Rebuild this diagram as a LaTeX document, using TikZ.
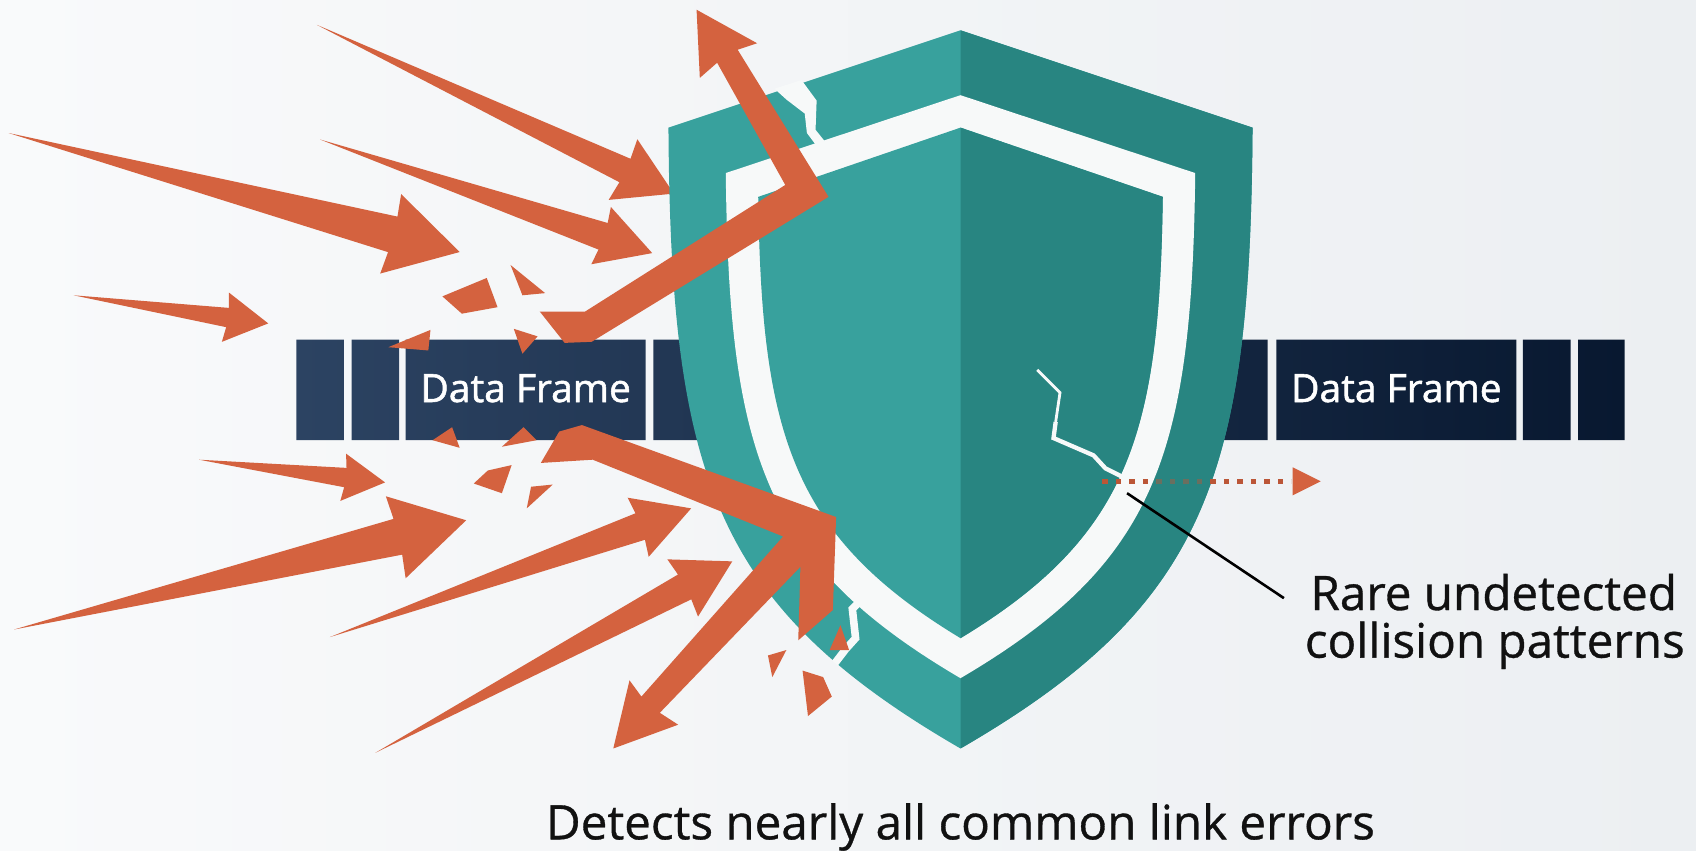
\documentclass[tikz,border=0pt]{standalone}
\usepackage{fontspec}
\setmainfont{Open Sans}
\newfontfamily\framefont{Open Sans}[RawFeature={embolden=1.4}]
\newfontfamily\captionfont{Open Sans}[RawFeature={embolden=0.7}]
\usetikzlibrary{calc}

\definecolor{bgL}{HTML}{F9FAFB}
\definecolor{bgR}{HTML}{ECEFF2}
\definecolor{navyL}{HTML}{2C4362}
\definecolor{navyR}{HTML}{081830}
\definecolor{tealL}{HTML}{38A19D}
\definecolor{tealD}{HTML}{288581}
\definecolor{coral}{HTML}{D4623F}
\definecolor{gapwhite}{HTML}{F7F9F9}
\definecolor{ink}{HTML}{111111}

\tikzset{
  spikefill/.style={fill=coral},
  shard/.style={fill=coral},
  bounce/.style={fill=coral},
  frametext/.style={text=white, font=\framefont\fontsize{36}{40}\selectfont, inner sep=0pt},
  caption/.style={text=ink, font=\captionfont\fontsize{44}{50}\selectfont, inner sep=0pt, anchor=base},
  leader/.style={draw=black, line width=2.4pt},
  crackline/.style={draw=gapwhite, line join=miter},
  trail/.style={draw=coral!88!black, line width=5pt, dash pattern=on 5pt off 7.5pt},
}

% incoming error spike: tail, tip, head length, head half width, shaft half width
\newcommand{\spike}[5]{%
  \path (#1) coordinate (sT) (#2) coordinate (sP);
  \path ($(sP)!#3pt!(sT)$) coordinate (sH)
        ($(sP)!#3pt+2pt!(sT)$) coordinate (sB);
  \fill[spikefill] (sT) -- ($(sH)!#5pt!90:(sP)$) -- ($(sB)!#4pt!90:(sP)$) -- (sP)
     -- ($(sB)!#4pt!-90:(sP)$) -- ($(sH)!#5pt!-90:(sP)$) -- cycle;
}

% shield outlines
\newcommand{\outerShield}[1]{\fill[#1] (888,28) -- (1158,118)
  .. controls (1156,440) and (1116,560) .. (888,692)
  .. controls (660,560) and (620,440) .. (618,118) -- cycle;}
\newcommand{\bandShield}[1]{\fill[#1] (888,88) -- (1105,160)
  .. controls (1102,420) and (1070,520) .. (888,627)
  .. controls (706,520) and (674,420) .. (671,160) -- cycle;}
\newcommand{\innerShield}[1]{\fill[#1] (888,118) -- (1075,182)
  .. controls (1072,400) and (1045,495) .. (888,590)
  .. controls (731,495) and (704,400) .. (701,182) -- cycle;}

\begin{document}
\begin{tikzpicture}[x=1pt,y=-1pt]
\useasboundingbox (0,0) rectangle (1568,786);
\shade[left color=bgL, right color=bgR] (0,0) rectangle (1568,786);

% data frame strip
\shade[left color=navyL, right color=navyR]
  (274,314) rectangle (318,407)
  (325,314) rectangle (369,407)
  (375,314) rectangle (597,407)
  (604,314) rectangle (1172,407)
  (1180,314) rectangle (1402,407)
  (1408,314) rectangle (1452,407)
  (1459,314) rectangle (1502,407);
\node[frametext] (frameL) at (486,359) {Data Frame};
\node[frametext] (frameR) at (1291,359) {Data Frame};

% incoming errors
\spike{293,23}{623,179}{50}{31}{12}
\spike{8,123}{425,233}{64}{38}{17}
\spike{296,129}{603,234}{48}{28}{13}
\spike{68,273}{248,299}{38}{23}{9}
\spike{184,425}{356,446}{37}{22}{9}
\spike{13,582}{431,481}{65}{39}{17}
\spike{305,589}{639,470}{50}{29}{13}
\spike{347,696}{677,519}{50}{30}{13}

% shattered pieces
\fill[shard] (409,274) -- (450,257) -- (460,284) -- (427,290) -- cycle;
\fill[shard] (472,245) -- (504,271) -- (483,273) -- cycle;
\fill[shard] (359,321) -- (398,305) -- (396,324) -- cycle;
\fill[shard] (475,304) -- (497,311) -- (483,327) -- cycle;
\fill[shard] (400,407) -- (418,395) -- (425,414) -- cycle;
\fill[shard] (464,413) -- (484,395) -- (496,407) -- cycle;
\fill[shard] (438,447) -- (451,435) -- (473,430) -- (464,456) -- cycle;
\fill[shard] (487,470) -- (491,450) -- (511,448) -- cycle;
\fill[shard] (710,606) -- (727,601) -- (714,626) -- cycle;
\fill[shard] (742,620) -- (761,626) -- (769,644) -- (747,662) -- cycle;

% shield
\outerShield{tealL}
\begin{scope}
  \clip (888,0) rectangle (1300,786);
  \outerShield{tealD}
\end{scope}
\bandShield{gapwhite}
\innerShield{tealL}
\begin{scope}
  \clip (888,0) rectangle (1300,786);
  \innerShield{tealD}
\end{scope}

% cracks
\fill[gapwhite] (716,82) -- (741,74) -- (755,93) -- (754,120) -- (762,130)
  -- (755,135) -- (746,123) -- (744,105) -- (727,92) -- cycle;
\draw[crackline, line width=7pt] (795,556) -- (788,563) -- (791,590) -- (782,600) -- (772,613);
\draw[crackline, line width=2.6pt] (959,342) -- (980,363) -- (976,390);
\draw[crackline, line width=4pt] (976,390) -- (974,405) -- (1011,421) -- (1022,433) -- (1038,441);

% deflected errors
\fill[bounce] (499,288) -- (541,288) -- (726,171) -- (663,58) -- (647,72) -- (644,9)
  -- (700,40) -- (682,46) -- (766,182) -- (547,316) -- (522,317) -- cycle;
\fill[bounce] (500,428) -- (517,399) -- (538,393) -- (773,478) -- (770,564) -- (738,592)
  -- (740,524) -- (610,659) -- (627,670) -- (567,692) -- (582,629) -- (593,644)
  -- (724,496) -- (548,425) -- cycle;
\fill[shard] (767,601) -- (777,578) -- (785,601) -- cycle;

% undetected error slipping through
\coordinate (trailA) at (1019,445);
\coordinate (trailB) at (1069,445);
\coordinate (trailC) at (1119,445);
\coordinate (trailD) at (1194,445);
\draw[trail] (trailA) -- (trailB);
\draw[trail, opacity=0.45] (trailB) -- (trailC);
\draw[trail] (trailC) -- (trailD);
\fill[coral] (1195,432) -- (1221,445) -- (1195,458) -- cycle;

% labels
\coordinate (crackTip) at (1042,456);
\coordinate (leadEnd) at (1187,553);
\draw[leader] (crackTip) -- (leadEnd);
\node[caption] (rare1) at (1381,564) {Rare undetected};
\node[caption] (rare2) at (1382,608) {collision patterns};
\node[caption] (detects) at (888,776) {Detects nearly all common link errors};
\end{tikzpicture}
\end{document}
